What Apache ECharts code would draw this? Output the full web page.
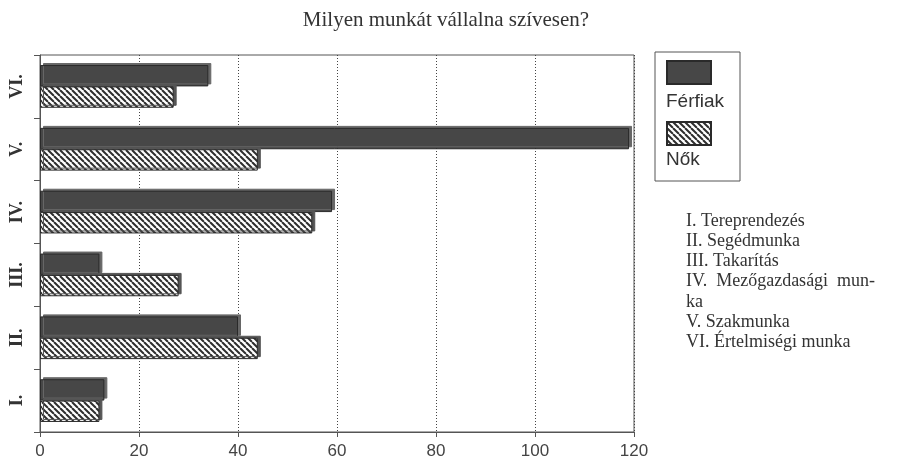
<!DOCTYPE html>
<html>
<head>
<meta charset="utf-8">
<script src="https://cdn.jsdelivr.net/npm/echarts@6/dist/echarts.min.js"></script>
<style>
  html, body { margin: 0; padding: 0; background: #fff; }
  #main { width: 923px; height: 465px; }
</style>
</head>
<body>
<div id="main"></div>
<script>
// data
var categories = ['I.', 'II.', 'III.', 'IV.', 'V.', 'VI.'];
var ferfiak = [13, 40, 12, 59, 119, 34];
var nok = [12, 44, 28, 55, 44, 27];
var xTicks = [0, 20, 40, 60, 80, 100, 120];
var notes = [
  'I. Tereprendezés',
  'II. Segédmunka',
  'III. Takarítás',
  'IV.  Mezőgazdasági  mun-',
  'ka',
  'V. Szakmunka',
  'VI. Értelmiségi munka'
];

(function () {
  var chart = echarts.init(document.getElementById('main'));

  // hatch pattern
  var tile = document.createElement('canvas');
  tile.width = 6;
  tile.height = 6;
  var ctx = tile.getContext('2d');
  ctx.fillStyle = '#fff';
  ctx.fillRect(0, 0, 6, 6);
  ctx.strokeStyle = '#2e2e2e';
  ctx.lineWidth = 2;
  [-6, 0, 6].forEach(function (k) {
    ctx.beginPath();
    ctx.moveTo(k, 0);
    ctx.lineTo(k + 6, 6);
    ctx.stroke();
  });

  var option = {
    backgroundColor: '#fff',
    animation: false,
    title: {
      text: 'Milyen munkát vállalna szívesen?',
      left: 441,
      textAlign: 'center',
      top: 5,
      textStyle: { fontFamily: 'Liberation Serif', fontWeight: 'normal', fontSize: 21, color: '#333' }
    },
    legend: {
      orient: 'vertical',
      left: 655,
      top: 52,
      data: ['Férfiak', 'Nők'],
      icon: 'rect',
      itemWidth: 44,
      itemHeight: 23,
      itemGap: 36,
      formatter: function () { return ''; },
      padding: [8, 28, 35, 11],
      borderColor: '#555',
      borderWidth: 1,
      selectedMode: false
    },
    grid: {
      left: 40,
      right: 289,
      top: 55,
      bottom: 33,
      show: true,
      borderColor: '#555',
      borderWidth: 1
    },
    xAxis: {
      type: 'value',
      min: 0,
      max: 120,
      interval: 20,
      axisLine: { show: true, lineStyle: { color: '#555' } },
      axisTick: { show: true, length: 5, lineStyle: { color: '#555' } },
      axisLabel: {
        fontFamily: 'Liberation Sans',
        fontSize: 17,
        color: '#444',
        margin: 11,
        formatter: function (v) { return xTicks.indexOf(v) >= 0 ? String(v) : ''; }
      },
      splitLine: { show: true, lineStyle: { color: '#444', type: [1, 2] } }
    },
    yAxis: {
      type: 'category',
      data: categories,
      axisLine: { show: true, lineStyle: { color: '#555' } },
      axisTick: { show: true, length: 6, lineStyle: { color: '#555' } },
      axisLabel: {
        rotate: 90,
        fontFamily: 'Liberation Serif',
        fontSize: 18,
        fontWeight: 'bold',
        color: '#333',
        margin: 14
      }
    },
    series: [
      {
        name: 'Férfiak',
        type: 'bar',
        data: ferfiak,
        barGap: '0%',
        barCategoryGap: '32%',
        itemStyle: {
          color: '#474747',
          borderColor: '#2a2a2a',
          borderWidth: 1,
          shadowColor: '#666',
          shadowOffsetX: 3,
          shadowOffsetY: -2
        }
      },
      {
        name: 'Nők',
        type: 'bar',
        data: nok,
        itemStyle: {
          color: { image: tile, repeat: 'repeat' },
          borderColor: '#2a2a2a',
          borderWidth: 1,
          shadowColor: '#555',
          shadowOffsetX: 3,
          shadowOffsetY: -2
        }
      }
    ],
    graphic: [
      {
        type: 'text',
        left: 666,
        top: 92,
        style: { text: 'Férfiak', font: '19px "Liberation Sans"', fill: '#333' }
      },
      {
        type: 'text',
        left: 666,
        top: 150,
        style: { text: 'Nők', font: '19px "Liberation Sans"', fill: '#333' }
      },
      {
        type: 'text',
        left: 686,
        top: 211,
        style: {
          text: notes.join('\n'),
          font: '18px "Liberation Serif"',
          lineHeight: 20.2,
          fill: '#333'
        }
      }
    ]
  };

  chart.setOption(option);
  window.addEventListener('resize', function () {
    chart.resize();
  });
})();
</script>
</body>
</html>
